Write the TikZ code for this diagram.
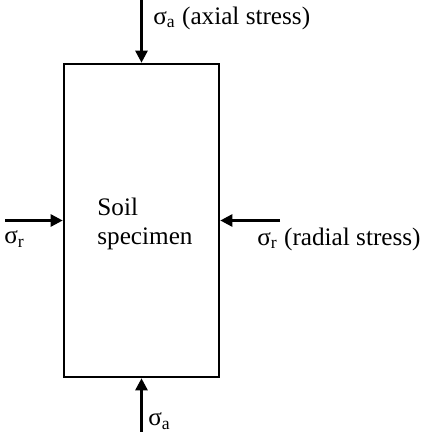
\documentclass[tikz,border=0pt]{standalone}
\usepackage{fontspec}
\setmainfont{Liberation Serif}
\usetikzlibrary{arrows.meta}
\begin{document}
\begin{tikzpicture}[x=0.5pt,y=-0.5pt,
  lbl/.style={font=\fontsize{12.6}{14.5}\selectfont, inner sep=0pt, anchor=west},
  force/.style={line width=1.3pt, -{Triangle[length=6pt,width=6pt]}},
  box/.style={draw, line width=1.3pt, minimum width=77.5pt, minimum height=156.5pt, inner sep=0pt}]
\useasboundingbox (0,0) rectangle (427,432);
\node[box] (spec) at (141.5,220.5) {};
\node[lbl, align=left] (txt) at (97,224) {Soil\\specimen};
\coordinate (ttop) at (141.5,0);
\coordinate (tbot) at (141.5,432);
\coordinate (tleft) at (5,220.5);
\coordinate (tright) at (280,220.5);
\draw[force] (ttop) -- (spec.north);
\draw[force] (tbot) -- (spec.south);
\draw[force] (tleft) -- (spec.west);
\draw[force] (tright) -- (spec.east);
\node[lbl] (la) at (153,18) {σ\textsubscript{a} (axial stress)};
\node[lbl] (lb) at (148,421) {σ\textsubscript{a}};
\node[lbl] (ll) at (4,239) {σ\textsubscript{r}};
\node[lbl] (lr) at (257,239) {σ\textsubscript{r} (radial stress)};
\end{tikzpicture}
\end{document}
